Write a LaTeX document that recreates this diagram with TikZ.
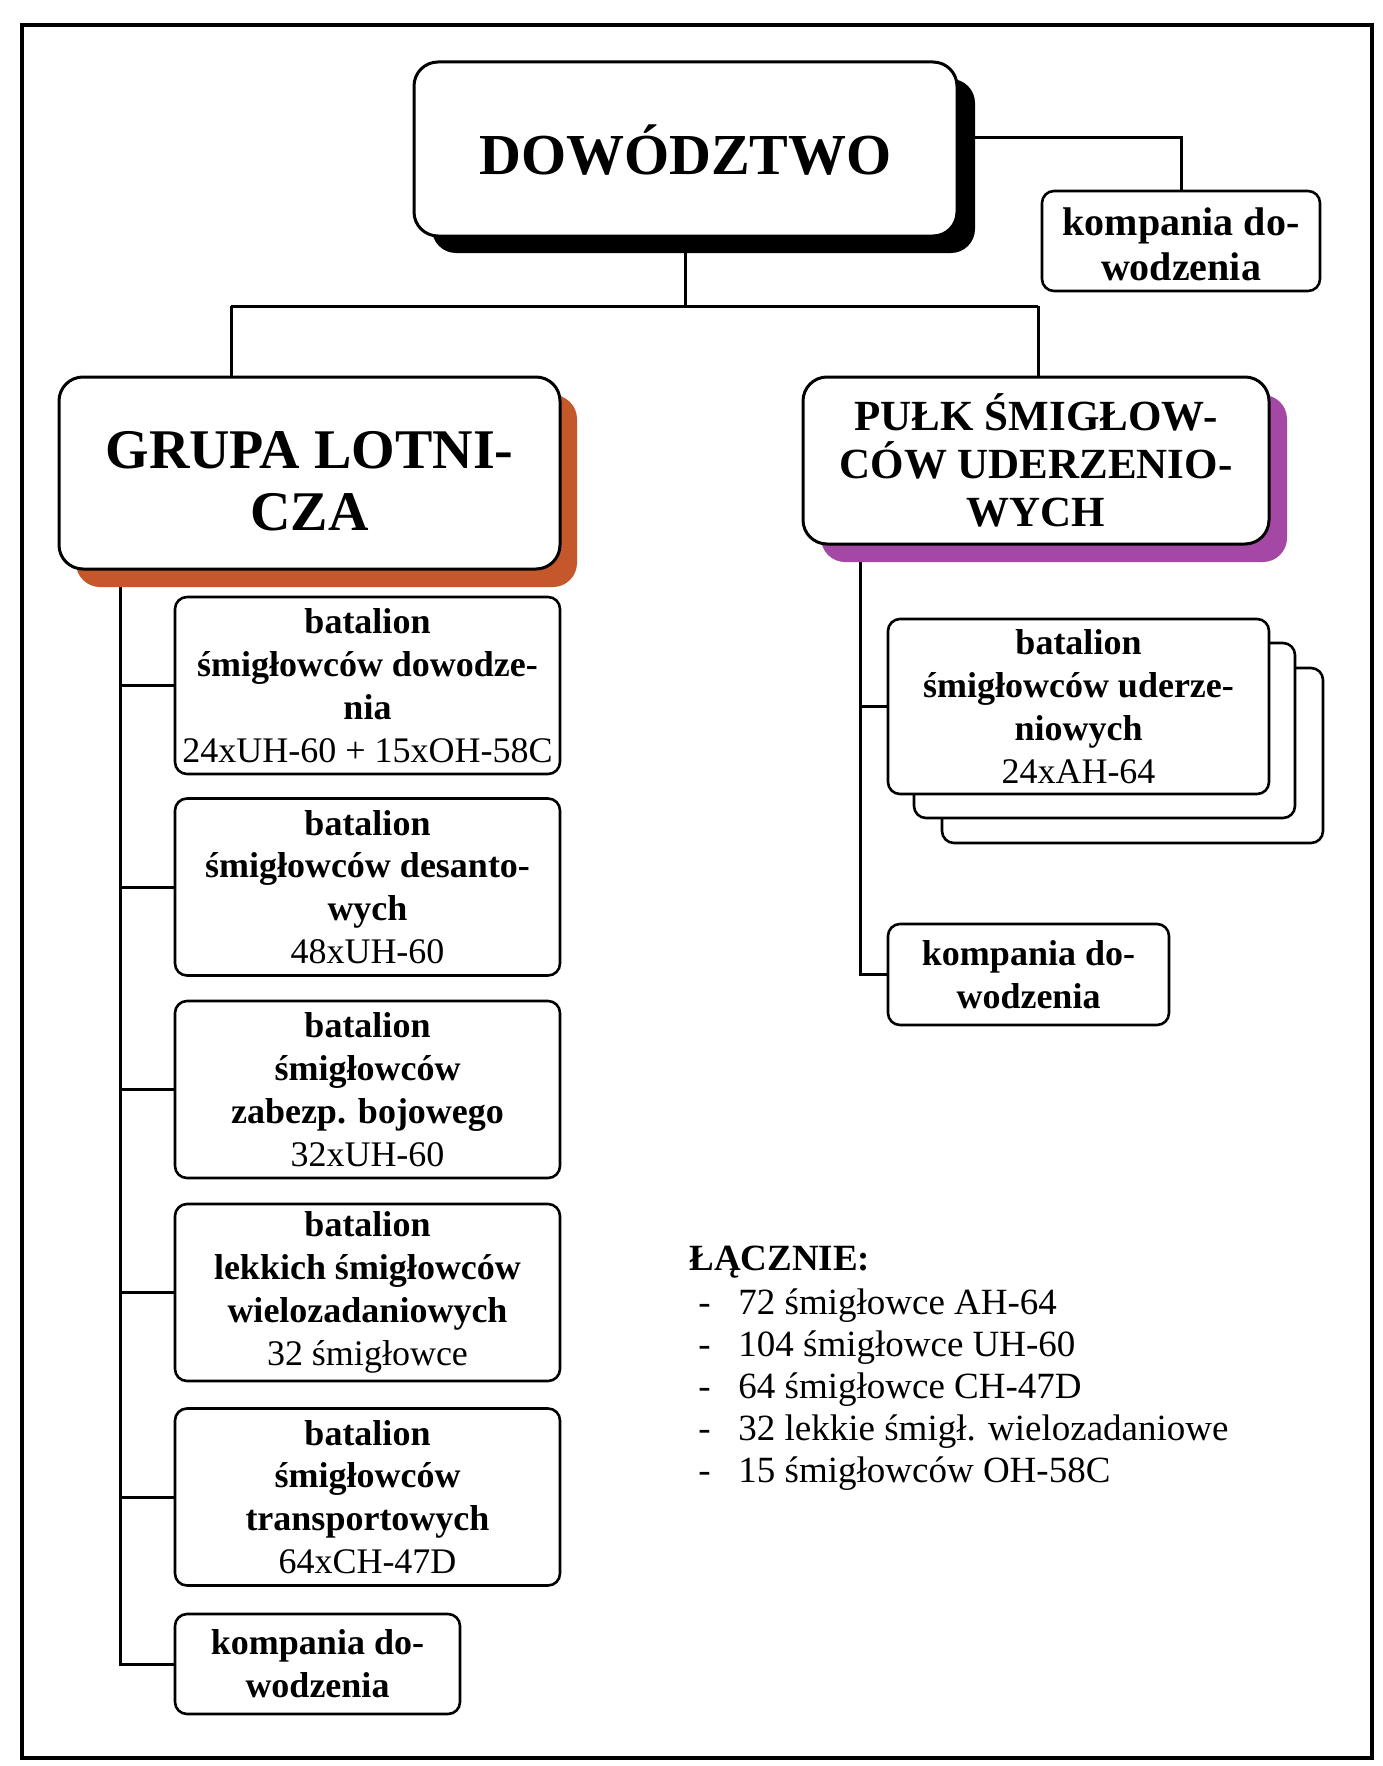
\documentclass[tikz,border=0pt]{standalone}
\usepackage{fontspec}
\setmainfont{Liberation Serif}
\usetikzlibrary{shadows,backgrounds}
\definecolor{shOrange}{RGB}{196,88,42}
\definecolor{shPurple}{RGB}{165,72,165}
\newcommand\lqdash{\makebox[24.5pt][l]{\hspace*{4.5pt}-}}
\begin{document}
\begin{tikzpicture}[x=0.5pt,y=-0.5pt,
 box/.style={draw, line width=1.3pt, fill=white, rounded corners=6pt, align=center, inner sep=0pt,
   font=\fontsize{18}{21.4}\selectfont\bfseries},
 bigbox/.style={draw, line width=1.5pt, fill=white, rounded corners=12pt, align=center, inner sep=0pt},
 conn/.style={line width=1.5pt},
 leftbox/.style={box, minimum width=192.5pt, minimum height=88.5pt},
 stackbox/.style={box, minimum width=190.5pt, minimum height=87.5pt},
 kompbox/.style={box, minimum width=141pt, minimum height=50pt},
]
\useasboundingbox (0,0) rectangle (1382,1766);
\draw[line width=1.6pt] (22,25) rectangle (1372,1758);

% top
\node[bigbox, minimum width=271.5pt, minimum height=87pt, text height=25.2pt, text depth=0pt,
  drop shadow={shadow xshift=9pt, shadow yshift=-8.5pt, fill=black, opacity=1},
  font=\fontsize{29}{34}\selectfont\bfseries] (dow) at (685.5,149) {DOWÓDZTWO};
\node[box, font=\fontsize{20}{22.5}\selectfont\bfseries, minimum width=139pt, minimum height=50pt]
  (kd0) at (1181,241) {\rule{0pt}{17pt}kompania do-\\wodzenia};

% second level
\node[bigbox, minimum width=250.5pt, minimum height=96pt, font=\fontsize{28}{31}\selectfont\bfseries,
  drop shadow={shadow xshift=8.5pt, shadow yshift=-9pt, fill=shOrange, opacity=1}]
  (grupa) at (309.5,473) {\rule{0pt}{26.5pt}GRUPA LOTNI-\\CZA};
\node[bigbox, minimum width=233pt, minimum height=83.5pt, font=\fontsize{21.5}{24}\selectfont\bfseries,
  drop shadow={shadow xshift=9pt, shadow yshift=-9pt, fill=shPurple, opacity=1}]
  (pulk) at (1036,460.5) {PUŁK ŚMIGŁOW-\\CÓW UDERZENIO-\\WYCH};

% left column
\node[leftbox] (b1) at (367.5,685.5) {batalion\\śmigłowców dowodze-\\nia\\\mdseries 24xUH-60 + 15xOH-58C};
\node[leftbox] (b2) at (367.5,887) {batalion\\śmigłowców desanto-\\wych\\\mdseries 48xUH-60};
\node[leftbox] (b3) at (367.5,1089.5) {batalion\\śmigłowców\\zabezp. bojowego\\\mdseries 32xUH-60};
\node[leftbox] (b4) at (367.5,1292.5) {batalion\\lekkich śmigłowców\\wielozadaniowych\\\mdseries 32 śmigłowce};
\node[leftbox] (b5) at (367.5,1497) {batalion\\śmigłowców\\transportowych\\\mdseries 64xCH-47D};
\node[kompbox, minimum width=142.5pt] (kd1) at (317.5,1664) {kompania do-\\wodzenia};

% right column
\node[stackbox] (bat3) at (1132.5,755.5) {};
\node[stackbox] (bat2) at (1104.5,730.5) {};
\node[stackbox] (bat1) at (1078.5,706.5) {batalion\\śmigłowców uderze-\\niowych\\\mdseries 24xAH-64};
\node[kompbox, minimum width=140.5pt, minimum height=50.5pt] (kd2) at (1028.5,974.5) {kompania do-\\wodzenia};

% summary
\node[anchor=north west, align=left, inner sep=0pt, font=\fontsize{18.5}{21}\selectfont] (sum) at (689,1246)
 {\textbf{ŁĄCZNIE:}\\[1pt]
  \lqdash 72 śmigłowce AH-64\\
  \lqdash 104 śmigłowce UH-60\\
  \lqdash 64 śmigłowce CH-47D\\
  \lqdash 32 lekkie śmigł. wielozadaniowe\\
  \lqdash 15 śmigłowców OH-58C};

% connectors
\begin{pgfonlayer}{background}
\coordinate (jl) at (231,306);
\coordinate (jr) at (1038,306);
\coordinate (lt) at (120,569);
\coordinate (rt) at (860,544);
\draw[conn] (dow.south) -- (dow.south |- jl);
\draw[conn] (jl) -- (jr);
\draw[conn] (jl) -- (jl |- grupa.north);
\draw[conn] (jr) -- (jr |- pulk.north);
\draw[conn] ([yshift=5.5pt]dow.east) -| (kd0.north);
\draw[conn] (lt) |- (kd1.west);
\foreach \b in {b1,b2,b3,b4,b5} \draw[conn] (\b.west -| lt) -- (\b.west);
\draw[conn] (rt) |- (kd2.west);
\draw[conn] (bat1.west -| rt) -- (bat1.west);
\end{pgfonlayer}
\end{tikzpicture}
\end{document}
